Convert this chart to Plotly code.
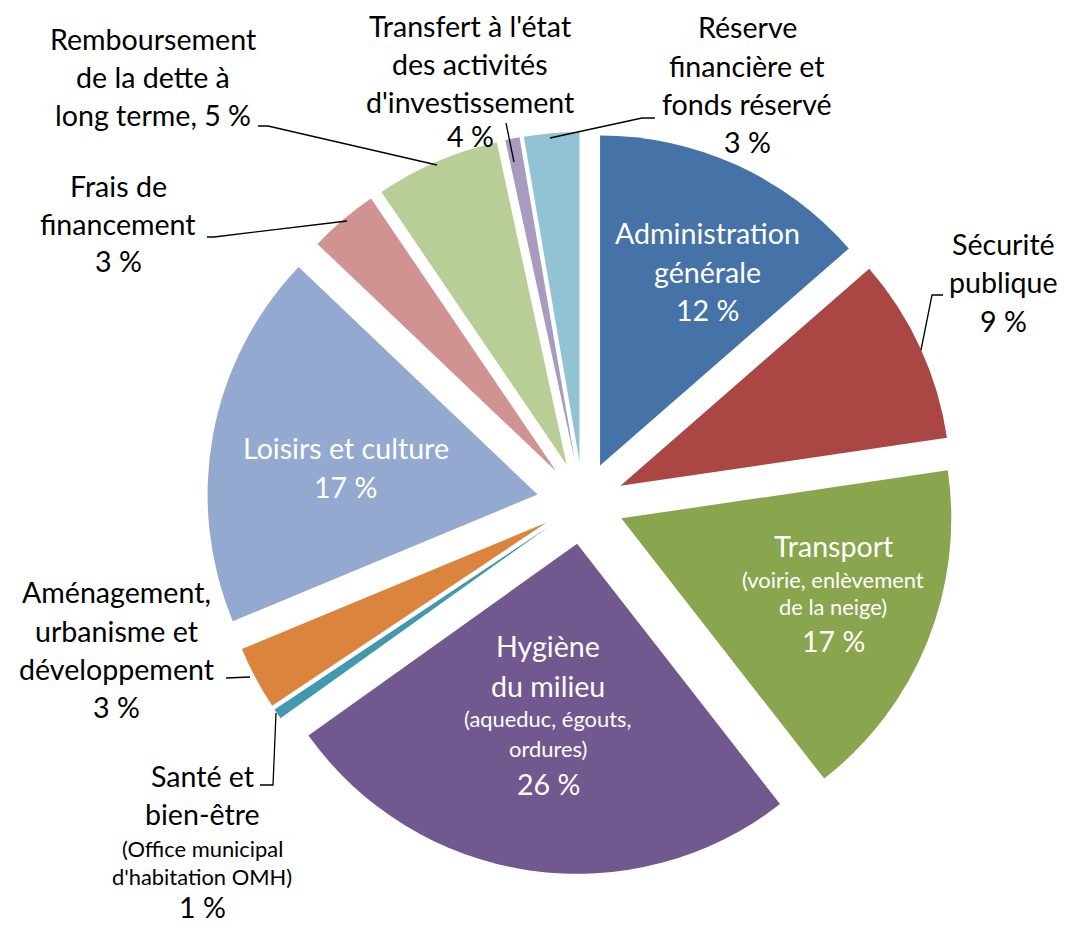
import plotly.graph_objects as go

# ---------------- data ----------------
categories = [
    "Administration générale",
    "Sécurité publique",
    "Transport",
    "Hygiène du milieu",
    "Santé et bien-être",
    "Aménagement, urbanisme et développement",
    "Loisirs et culture",
    "Frais de financement",
    "Remboursement de la dette à long terme",
    "Transfert à l'état des activités d'investissement",
    "Réserve financière et fonds réservé",
]
# slice sizes (share of the circle, %)
values = [13.6, 9.1, 16.8, 25.7, 0.5, 3.1, 18.4, 3.4, 6.1, 0.7, 2.7]
# percentages printed on the chart
pct_labels = ["12 %", "9 %", "17 %", "26 %", "1 %", "3 %", "17 %", "3 %", "5 %", "4 %", "3 %"]
# label text as written on the chart
label_main = [
    "Administration<br>générale",
    "Sécurité<br>publique",
    "Transport",
    "Hygiène<br>du milieu",
    "Santé et<br>bien-être",
    "Aménagement,<br>urbanisme et<br>développement",
    "Loisirs et culture",
    "Frais de<br>financement",
    "Remboursement<br>de la dette à<br>long terme,",
    "Transfert à l'état<br>des activités<br>d'investissement",
    "Réserve<br>financière et<br>fonds réservé",
]
label_sub = [
    "", "", "(voirie, enlèvement<br>de la neige)", "(aqueduc, égouts,<br>ordures)",
    "(Office municipal<br>d'habitation OMH)", "", "", "", "", "", "",
]

# ---------------- style ----------------
colors = ["#4572A7", "#AA4643", "#89A54E", "#71588F", "#4198AF", "#DB843D",
          "#93A9CF", "#D19392", "#B9CD96", "#A99BBD", "#91C3D5"]
pulls = [0.125, 0.125, 0.125, 0.125, 0.125, 0.125, 0.14, 0.125, 0.125, 0.125, 0.125]

W, H = 1065, 925
FONT = "Lato"
BIG, SMALL = 28.6, 21.9

# pie geometry (pixels)
R = 330.0
CX, CY = 583.0, 503.0
half = R * (1 + max(pulls))

# label placement: center x and baselines of each printed line (pixels)
label_pos = [
    dict(x=707, base=[244, 283, 321], color="white", inline=False),
    dict(x=1003, base=[255, 293.5, 332], color="black", inline=False),
    dict(x=833, base=[556.7, 588.3, 615, 651.7], color="white", inline=False),
    dict(x=548, base=[656.7, 696.7, 727, 756.7, 795], color="white", inline=False),
    dict(x=202, base=[786.7, 825, 857.3, 885, 918.5], color="black", inline=False),
    dict(x=116, base=[603.3, 641.7, 680, 718.3], color="black", inline=False),
    dict(x=345.5, base=[459, 498], color="white", inline=False),
    dict(x=118, base=[196.7, 235, 271.7], color="black", inline=False),
    dict(x=153, base=[50, 88.3, 125.7], color="black", inline=True),
    dict(x=470, base=[36.7, 75, 113.3, 146.7], color="black", inline=False),
    dict(x=747, base=[38.3, 76.7, 115, 153.3], color="black", inline=False),
]

leaders = [
    [(258, 126), (268, 126), (437, 165)],
    [(207, 237), (214, 237), (347, 221)],
    [(506, 123), (514, 162)],
    [(550, 138), (642, 118), (655, 118)],
    [(921, 350), (932, 295), (943, 295)],
    [(226, 678), (250, 677)],
    [(276, 713), (273, 785), (260, 785)],
]


def px(x):
    return x / W


def py(y):
    return 1 - y / H


fig = go.Figure(
    go.Pie(
        labels=categories,
        values=values,
        sort=False,
        direction="clockwise",
        rotation=0,
        pull=pulls,
        marker=dict(colors=colors, line=dict(width=0)),
        textinfo="none",
        hoverinfo="label+percent",
        domain=dict(x=[px(CX - half), px(CX + half)], y=[py(CY + half), py(CY - half)]),
    )
)

annotations = []
for i, pos in enumerate(label_pos):
    lines = [(t, BIG) for t in label_main[i].split("<br>")]
    if label_sub[i]:
        lines += [(t, SMALL) for t in label_sub[i].split("<br>")]
    if pos["inline"]:
        lines[-1] = (lines[-1][0] + " " + pct_labels[i], BIG)
    else:
        lines.append((pct_labels[i], BIG))
    for (txt, size), b in zip(lines, pos["base"]):
        annotations.append(dict(
            x=px(pos["x"]), y=py(b - 0.387 * size), xref="paper", yref="paper",
            text=txt, showarrow=False, xanchor="center", yanchor="middle",
            font=dict(family=FONT, size=size, color=pos["color"]),
        ))

shapes = []
for pts in leaders:
    path = "M " + " L ".join(f"{px(x)},{py(y)}" for x, y in pts)
    shapes.append(dict(type="path", xref="paper", yref="paper", path=path,
                       line=dict(color="black", width=1.3)))

fig.update_layout(
    width=W, height=H,
    margin=dict(l=0, r=0, t=0, b=0),
    paper_bgcolor="white", plot_bgcolor="white",
    showlegend=False,
    annotations=annotations,
    shapes=shapes,
    font=dict(family=FONT),
)

fig.write_html("out.html", config={"displayModeBar": False},
               post_script="document.body.style.margin='0';")
